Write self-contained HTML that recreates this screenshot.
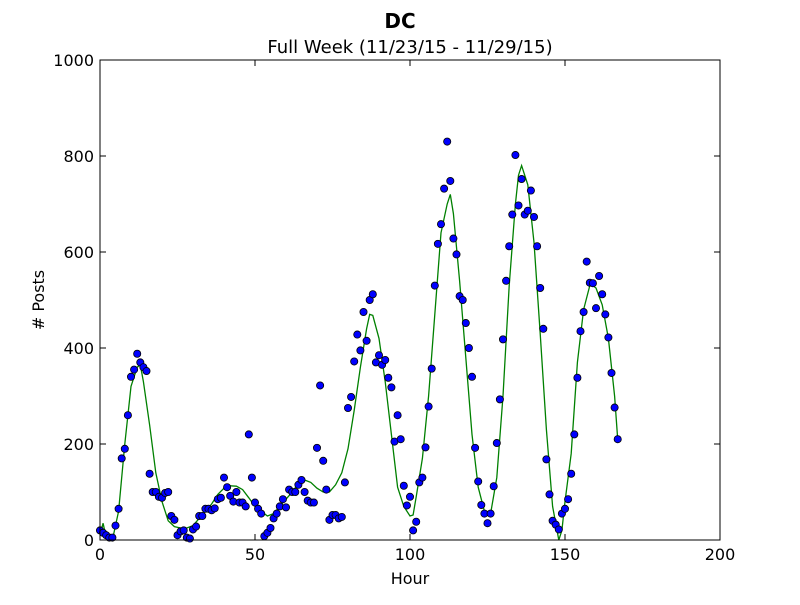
<!DOCTYPE html>
<html><head><meta charset="utf-8"><style>
body{margin:0;background:#fff;}
svg text{font-family:"DejaVu Sans","Liberation Sans",sans-serif;fill:#000;}
</style></head><body>
<svg id="chart" width="800" height="600" xmlns="http://www.w3.org/2000/svg">
<rect width="800" height="600" fill="#fff"/>
<text x="400" y="28" text-anchor="middle" font-size="20" font-weight="bold">DC</text>
<text x="410" y="53" text-anchor="middle" font-size="18">Full Week (11/23/15 - 11/29/15)</text>
<text x="410" y="584" text-anchor="middle" font-size="16">Hour</text>
<text x="44" y="300" text-anchor="middle" font-size="16" transform="rotate(-90 44 300)"># Posts</text>
<g id="plot"></g>
</svg>
<script>
const xTicks=[0,50,100,150,200];
const yTicks=[0,200,400,600,800,1000];
const posts=[20,15,10,5,5,30,65,170,190,260,340,355,388,370,360,352,138,100,100,90,88,98,100,50,42,10,18,20,5,3,22,28,50,50,65,65,62,66,85,88,130,110,92,80,100,78,78,70,220,130,78,65,55,8,15,25,45,55,70,85,68,105,100,100,115,125,100,82,78,78,192,322,165,105,42,52,52,45,48,120,275,298,372,428,395,475,415,500,512,370,385,365,375,338,318,205,260,210,113,72,90,20,38,120,130,193,278,357,530,617,658,732,830,748,628,595,508,500,452,400,340,192,122,73,55,35,55,112,202,293,418,540,612,678,802,697,752,678,686,728,673,612,525,440,168,95,40,32,22,55,65,85,138,220,338,435,475,580,536,535,483,550,512,470,422,348,276,210];
const fitHours=[0,1,2,4,6,8,10,12,13,14,16,18,20,22,24,26,28,30,32,34,36,38,40,42,44,46,48,50,52,54,56,58,60,62,64,66,68,70,72,74,76,78,80,82,84,86,87,88,90,92,94,96,98,100,101,102,104,106,108,110,112,113,114,116,118,120,122,124,126,128,130,132,134,135,136,138,140,142,144,146,148,149,150,152,154,156,158,159,160,162,164,166,167];
const fitValues=[10,35,5,0,60,200,320,360,365,330,240,140,80,40,28,25,25,30,45,60,75,95,108,113,112,105,88,70,60,50,55,70,85,100,118,125,120,108,100,100,115,140,190,270,360,440,470,468,420,330,220,110,70,50,52,90,170,300,470,640,700,720,680,540,380,220,110,60,55,130,300,530,700,760,780,740,620,430,230,70,0,20,80,180,370,480,530,530,525,490,420,300,210];
const NS='http://www.w3.org/2000/svg';
const L=100,R=720,T=60,B=540;
const xs=h=>L+(h-0)/200*(R-L);
const ys=v=>B-(v/1000)*(B-T);
const g=document.getElementById('plot');
function mk(tag,attrs){const e=document.createElementNS(NS,tag);for(const k in attrs)e.setAttribute(k,attrs[k]);g.appendChild(e);return e;}
// fit line
let d='';
fitHours.forEach((h,i)=>{d+=(i?'L':'M')+xs(h).toFixed(1)+','+ys(fitValues[i]).toFixed(1);});
const fl=mk('path',{d:d,fill:'none',stroke:'#008000','stroke-width':1.3});


// points
posts.forEach((v,h)=>{
 const c=mk('circle',{cx:xs(h),cy:ys(v),r:3.6,fill:'#0000ff',stroke:'#000','stroke-width':0.8});
 
 
});
// frame
const fr=mk('rect',{x:L,y:T,width:R-L,height:B-T,fill:'none',stroke:'#000','stroke-width':1});


xTicks.forEach(t=>{
 const x=xs(t);
 const a=mk('line',{x1:x,x2:x,y1:B,y2:B-6,stroke:'#000'});
 
 
 const b=mk('line',{x1:x,x2:x,y1:T,y2:T+6,stroke:'#000'});
 
 
 const tx=mk('text',{x:x,y:B+20,'text-anchor':'middle','font-size':16});
 tx.textContent=t;
 
 
});
yTicks.forEach(t=>{
 const y=ys(t);
 const a=mk('line',{x1:L,x2:L+6,y1:y,y2:y,stroke:'#000'});
 
 
 const b=mk('line',{x1:R,x2:R-6,y1:y,y2:y,stroke:'#000'});
 
 
 const tx=mk('text',{x:L-6,y:y+6,'text-anchor':'end','font-size':16});
 tx.textContent=t;
 
 
});
</script>
</body></html>
